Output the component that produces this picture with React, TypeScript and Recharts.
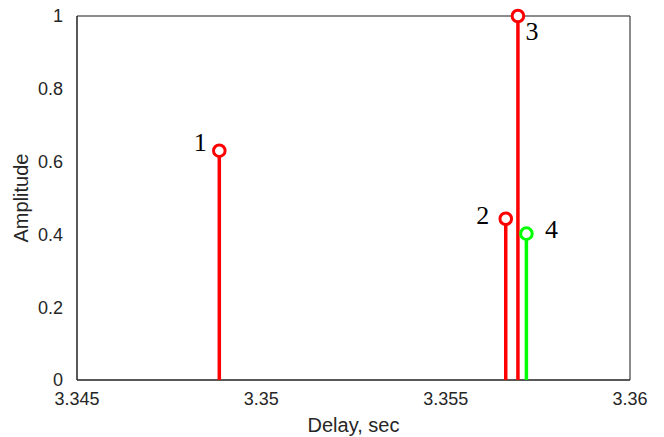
import { ComposedChart, Scatter, XAxis, YAxis, CartesianGrid, ReferenceArea } from "recharts"

// echo peaks: delay (s) and normalised amplitude
const delays = [3.34886, 3.35663, 3.35696, 3.35719]
const amplitudes = [0.63, 0.443, 1.0, 0.402]
const peakLabels = ["1", "2", "3", "4"]
const peakColors = ["#ff0000", "#ff0000", "#ff0000", "#00ff00"]

const xTicks = [3.345, 3.35, 3.355, 3.36]
const yTicks = [0, 0.2, 0.4, 0.6, 0.8, 1]

// where each number sits relative to its marker
const labelOffsets = [
    { dx: -19, dy: -8 },
    { dx: -23, dy: -3 },
    { dx: 14, dy: 15 },
    { dx: 25, dy: -4 },
]

const axisColor = "#262626"
const sans = "'Liberation Sans', Arial, sans-serif"

function StemHead(props: any) {
    const { cx, cy, payload } = props
    if (!payload || payload.y === 0) return <g />
    const off = labelOffsets[payload.idx]
    return (
        <g>
            <circle cx={cx} cy={cy} r={5.8} fill="#fff" stroke={payload.color} strokeWidth={3} />
            <text
                x={cx + off.dx}
                y={cy + off.dy}
                textAnchor="middle"
                dominantBaseline="central"
                fontFamily="'Liberation Serif', 'Times New Roman', serif"
                fontSize={26}
                fill="#000"
            >
                {payload.label}
            </text>
        </g>
    )
}

export default function App() {
    const stems = delays.map((d, i) => ({
        data: [
            { x: d, y: 0, idx: i, label: peakLabels[i], color: peakColors[i] },
            { x: d, y: amplitudes[i], idx: i, label: peakLabels[i], color: peakColors[i] },
        ],
        color: peakColors[i],
    }))

    return (
        <div style={{ position: "absolute", left: 0, top: 0, background: "#fff" }}>
            <ComposedChart width={664} height={437} margin={{ top: 16, right: 34, left: 0, bottom: 0 }}>
                <CartesianGrid stroke="#e3e3e3" strokeWidth={1} />
                <XAxis
                    xAxisId="b"
                    type="number"
                    dataKey="x"
                    domain={[3.345, 3.36]}
                    ticks={xTicks}
                    tickFormatter={(v: number) => String(+v.toFixed(3))}
                    height={57}
                    tickLine={false}
                    tickMargin={6}
                    stroke={axisColor}
                    tick={{ fill: axisColor, fontSize: 18, fontFamily: sans }}
                    label={{ value: "Delay, sec", position: "insideBottom", offset: 5, fill: axisColor, fontSize: 20, fontFamily: sans }}
                    allowDataOverflow
                />
                <YAxis
                    yAxisId="l"
                    type="number"
                    dataKey="y"
                    domain={[0, 1]}
                    ticks={yTicks}
                    width={77}
                    tickLine={false}
                    tickMargin={8}
                    stroke={axisColor}
                    tick={{ fill: axisColor, fontSize: 18, fontFamily: sans }}
                    label={{ value: "Amplitude", angle: -90, position: "insideLeft", offset: 21, fill: axisColor, fontSize: 20, fontFamily: sans, style: { textAnchor: "middle" } }}
                />
                <ReferenceArea
                    xAxisId="b"
                    yAxisId="l"
                    x1={3.345}
                    x2={3.36}
                    y1={0}
                    y2={1}
                    fill="none"
                    stroke={axisColor}
                    strokeWidth={1}
                    fillOpacity={0}
                    strokeOpacity={1}
                    ifOverflow="visible"
                />
                {stems.map((s, i) => (
                    <Scatter
                        key={i}
                        xAxisId="b"
                        yAxisId="l"
                        data={s.data}
                        line={{ stroke: s.color, strokeWidth: 3.5 }}
                        shape={StemHead}
                        isAnimationActive={false}
                    />
                ))}
            </ComposedChart>
        </div>
    )
}
